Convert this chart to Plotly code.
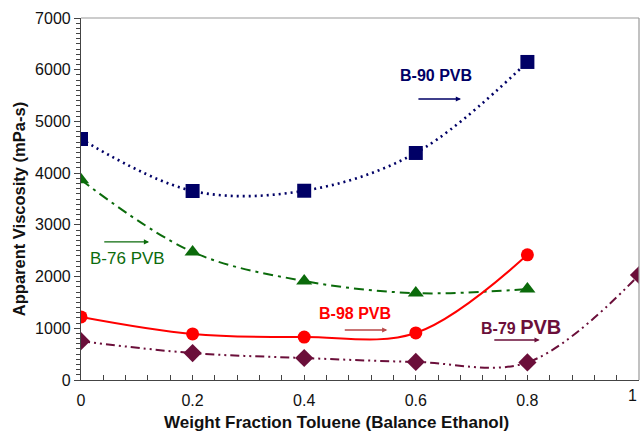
import plotly.graph_objects as go

# ---- data ----
toluene = [0.0, 0.2, 0.4, 0.6, 0.8]
toluene_b79 = [0.0, 0.2, 0.4, 0.6, 0.8, 1.0]
b90 = [4660, 3655, 3660, 4390, 6150]
b76 = [3870, 2475, 1915, 1680, 1760]
b98 = [1220, 890, 830, 910, 2420]
b79 = [750, 520, 425, 350, 340, 2030]

x_ticks = [0, 0.2, 0.4, 0.6, 0.8]
x_tick_text = ["0", "0.2", "0.4", "0.6", "0.8"]
y_ticks = [0, 1000, 2000, 3000, 4000, 5000, 6000, 7000]

FONT = "Liberation Sans, Arial, sans-serif"
C90, C76, C98, C79 = "#000066", "#0b6b0b", "#ff0000", "#6b0f3a"

fig = go.Figure()
fig.add_trace(go.Scatter(x=toluene, y=b90, mode="lines+markers", line=dict(color=C90, width=2.6, dash="2px,4px", shape="spline", smoothing=1.0),
                         marker=dict(symbol="square", size=14, color=C90)))
fig.add_trace(go.Scatter(x=toluene, y=b76, mode="lines+markers", line=dict(color=C76, width=2, dash="10px,5px,3px,5px", shape="spline", smoothing=1.0),
                         marker=dict(symbol="triangle-up", size=14, color=C76)))
fig.add_trace(go.Scatter(x=toluene, y=b98, mode="lines+markers", line=dict(color=C98, width=2, shape="spline", smoothing=1.0),
                         marker=dict(symbol="circle", size=13, color=C98)))
fig.add_trace(go.Scatter(x=toluene_b79, y=b79, mode="lines+markers", line=dict(color=C79, width=2, dash="9px,4px,2px,4px,2px,4px", shape="spline", smoothing=1.0),
                         marker=dict(symbol="diamond", size=14, color=C79)))

def ann(text, x, y, color, size=16):
    fig.add_annotation(x=x, y=y, xref="x", yref="y", text=text, showarrow=False,
                       font=dict(family=FONT, size=size, color=color))

def arrow(x0, x1, y, color):
    fig.add_annotation(x=x1, y=y, ax=x0, ay=y, xref="x", yref="y", axref="x", ayref="y",
                       text="", showarrow=True, arrowhead=2, arrowsize=0.8, arrowwidth=1.3, arrowcolor=color)

ann("<b>B-90 PVB</b>", 0.636, 5880, C90)
arrow(0.602, 0.681, 5434, C90)
ann("B-76 PVB", 0.084, 2340, C76, 17)
arrow(0.039, 0.122, 2669, C76)
ann("<b>B-98 PVB</b>", 0.491, 1277, C98)
arrow(0.470, 0.549, 967, "#b84848")
ann("<b>B-79 <span style='font-size:20px'>PVB</span></b>", 0.789, 1025, C79)
arrow(0.738, 0.822, 773, C79)

# tick label "1" at the right edge
fig.add_annotation(x=1, y=0, xref="x", yref="paper", xanchor="right", yanchor="top", yshift=-5, text="1", showarrow=False,
                   font=dict(family=FONT, size=16, color="#111111"))
# axis titles
fig.add_annotation(x=0.457, y=0, xref="paper", yref="paper", yanchor="middle", yshift=-42, showarrow=False,
                   text="<b>Weight Fraction Toluene (Balance Ethanol)</b>", font=dict(family=FONT, size=17, color="#111111"))
fig.add_annotation(x=0, y=0.472, xref="paper", yref="paper", xanchor="center", xshift=-62, textangle=-90, showarrow=False,
                   text="<b>Apparent Viscosity (mPa-s)</b>", font=dict(family=FONT, size=16.5, color="#111111"))

fig.update_layout(
    width=640, height=436,
    margin=dict(l=81, r=1, t=18, b=56),
    paper_bgcolor="white", plot_bgcolor="white",
    showlegend=False,
    font=dict(family=FONT, color="#111111"),
    xaxis=dict(range=[0, 1], tickvals=x_ticks, ticktext=x_tick_text, showgrid=False, zeroline=False,
               showline=True, linecolor="#444444", linewidth=1.2,
               ticks="inside", ticklen=5, tickcolor="#444444",
               minor=dict(dtick=0.04, ticks="inside", ticklen=5, tickcolor="#444444"),
               tickfont=dict(size=16), ticklabelstandoff=6),
    yaxis=dict(range=[0, 7000], tickvals=y_ticks, showgrid=False, zeroline=False,
               showline=True, linecolor="#444444", linewidth=1.2,
               ticks="outside", ticklen=6, tickcolor="#444444",
               minor=dict(dtick=100, ticks="outside", ticklen=4, tickcolor="#444444"),
               tickfont=dict(size=16)),
)
fig.add_shape(type="line", xref="paper", yref="paper", x0=0, x1=1, y0=1, y1=1, line=dict(color="#999999", width=1.2))
fig.add_shape(type="line", xref="paper", yref="paper", x0=1, x1=1, y0=0, y1=1, line=dict(color="#999999", width=1.2))

fig.write_html("out.html")
